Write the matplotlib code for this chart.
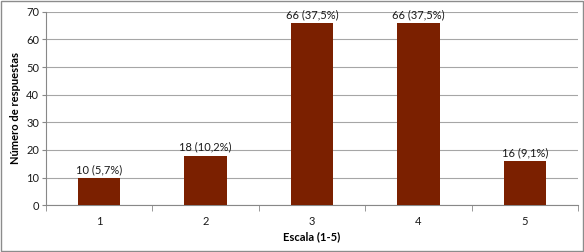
import matplotlib.pyplot as plt
import numpy as np
from matplotlib.patches import Rectangle

categories = ['1', '2', '3', '4', '5']
counts = [10, 18, 66, 66, 16]
labels = ['10 (5,7%)', '18 (10,2%)', '66 (37,5%)', '66 (37,5%)', '16 (9,1%)']

plt.rcParams['font.family'] = ['Lato', 'DejaVu Sans']

fig = plt.figure(figsize=(5.84, 2.52), dpi=100)
ax = fig.add_axes([0.0788, 0.1853, 0.9109, 0.7683])

x = np.arange(len(categories))
bars = ax.bar(x, counts, width=0.4, color='#7b2000', zorder=3)
ax.bar_label(bars, labels=labels, padding=2, fontsize=8, color='#1a1a1a')

ax.set_xlim(-0.5, len(categories) - 0.5)
ax.set_ylim(0, 70)
ax.set_yticks(range(0, 71, 10))
ax.set_xticks(x)
ax.set_xticklabels(categories)
ax.set_xticks(np.arange(-0.5, len(categories) + 0.5, 1), minor=True)

ax.grid(axis='y', color='#a6a6a6', linewidth=0.8, zorder=0)
for side in ['top', 'right']:
    ax.spines[side].set_visible(False)
ax.spines['left'].set_color('#888888')
ax.spines['bottom'].set_color('#888888')

ax.tick_params(axis='y', labelsize=8, length=3, color='#888888', pad=2, labelcolor='#1a1a1a')
ax.tick_params(axis='x', which='major', labelsize=8, length=0, pad=8, labelcolor='#1a1a1a')
ax.tick_params(axis='x', which='minor', length=4, color='#888888')

ax.set_xlabel('Escala (1-5)', fontsize=8, fontweight='bold', labelpad=3)
ax.set_ylabel('Número de respuestas', fontsize=8, fontweight='bold', labelpad=4)

fig.patches.append(Rectangle((0.001, 0.002), 0.997, 0.995, transform=fig.transFigure,
                             fill=False, edgecolor='#8c8c8c', linewidth=1))

fig.savefig('out.png', dpi=100)
